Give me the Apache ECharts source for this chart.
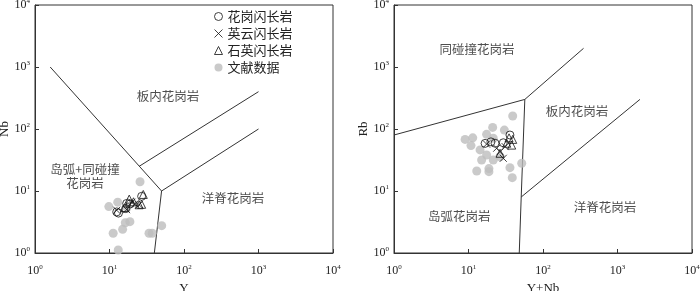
<!DOCTYPE html>
<html><head><meta charset="utf-8">
<script src="https://cdn.jsdelivr.net/npm/echarts@6/dist/echarts.min.js"></script>
<style>html,body{margin:0;padding:0;background:#fff}#c{width:700px;height:291px}</style>
</head><body><div id="c"></div>
<script>
// ---- data ----
const seriesNames = ['花岗闪长岩','英云闪长岩','石英闪长岩','文献数据'];
// Left panel: [Y, Nb]
const leftGranodiorite = [[12.5,4.6],[13.2,4.4],[16.5,5.2],[19,6.2],[27,8.2],[17,6.3]];
const leftTonalite     = [[12.5,4.9],[17,5.0],[22,6.2],[25,6.0],[20,6.6]];
const leftQtzDiorite   = [[18.4,7.4],[28.4,8.8],[25,6.0],[27,6.1],[21,6.7],[16,5.4]];
const leftLiterature   = [[9.8,5.6],[12.9,6.6],[25.7,14.1],[11.2,2.08],[15,2.41],[16.3,3.08],[18.8,3.2],[33.9,2.08],[37.5,2.08],[50.2,2.76],[13.1,1.12],[17.2,5.4]];
// Right panel: [Y+Nb, Rb]
const rightGranodiorite = [[16.7,58.6],[36,80],[22.7,59],[29.3,60],[20,62]];
const rightTonalite     = [[29.3,33.7],[26.5,43],[17.5,57],[23.9,49],[31,52]];
const rightQtzDiorite   = [[26.5,40.6],[39.2,68],[32.6,59],[38,55],[35,72]];
const rightLiterature   = [[39.2,162],[21.1,106],[30.3,96],[9,68],[11.4,72],[10.8,54],[17.5,82],[14.3,46],[17.5,38],[15,31.6],[12.9,21],[18.8,23],[18.8,20.5],[21.5,31.6],[36,23.8],[38.7,16.4],[51.8,28],[21.5,71],[26.5,35.7]];
// Discrimination boundaries
const leftBoundaries = [
  [[1.6,1000],[50,10]],
  [[50,10],[40,1]],
  [[50,10],[1000,100]],
  [[25,25],[1000,400]]
];
const rightBoundaries = [
  [[1,80],[57,300]],
  [[57,300],[350,2000]],
  [[57,300],[51,8],[48,1]],
  [[51,8],[2000,300]]
];
// Field labels [x, y, text]
const leftFields = [[61,340,'板内花岗岩'],[4.7,17.5,'岛弧+同碰撞\n花岗岩'],[455,7.7,'洋脊花岗岩']];
const rightFields = [[13,1950,'同碰撞花岗岩'],[286,195,'板内花岗岩'],[7.5,3.95,'岛弧花岗岩'],[680,5.5,'洋脊花岗岩']];
const axisNames = {leftX:'Y', leftY:'Nb', rightX:'Y+Nb', rightY:'Rb'};

// ---- chart ----
const serif = '"Liberation Serif","Noto Sans CJK SC",serif';
const cjk = '"Noto Sans CJK SC",sans-serif';
const supFmt = v => { const e = Math.round(Math.log10(v)); return '{b|10}{s|' + e + '}'; };
const rich = { b:{fontFamily:serif,fontSize:12,color:'#222'}, s:{fontFamily:serif,fontSize:7,color:'#222',padding:[0,0,7,0]} };

function mkX(gi, name){
  return {type:'log', logBase:10, gridIndex:gi, min:1, max:10000, name:name, nameLocation:'middle', nameGap:26,
    nameTextStyle:{fontFamily:serif,fontSize:13,color:'#222'},
    axisLine:{show:true,lineStyle:{color:'#333',width:1}},
    axisTick:{show:true,inside:true,length:4,lineStyle:{color:'#333'}},
    minorTick:{show:false}, splitLine:{show:false},
    axisLabel:{formatter:supFmt,rich:rich,margin:11,showMinLabel:true,showMaxLabel:true}};
}
function mkY(gi, name){
  return {type:'log', logBase:10, gridIndex:gi, min:1, max:10000, name:name, nameLocation:'middle', nameGap:22,
    nameTextStyle:{fontFamily:serif,fontSize:13,color:'#222'},
    axisLine:{show:true,lineStyle:{color:'#333',width:1}},
    axisTick:{show:true,inside:true,length:4,lineStyle:{color:'#333'}},
    minorTick:{show:false}, splitLine:{show:false},
    axisLabel:{formatter:supFmt,rich:rich,margin:5,showMinLabel:true,showMaxLabel:true}};
}
const hollow = {color:'rgba(0,0,0,0)', borderColor:'#111', borderWidth:1};
const xPath = 'path://M0,0L10,10M10,0L0,10';
function pts(gi, data, idx){
  const base = {type:'scatter', xAxisIndex:gi, yAxisIndex:gi, data:data, name:seriesNames[idx], silent:true, z:idx===3?2:3};
  if(idx===0) return Object.assign(base,{symbol:'circle',symbolSize:8,itemStyle:hollow});
  if(idx===1) return Object.assign(base,{symbol:xPath,symbolSize:7,itemStyle:{color:'rgba(0,0,0,0)',borderColor:'#111',borderWidth:1}});
  if(idx===2) return Object.assign(base,{symbol:'triangle',symbolSize:8,itemStyle:hollow});
  return Object.assign(base,{symbol:'circle',symbolSize:9,itemStyle:{color:'#bdbdbd'}});
}
function lines(gi, arr){
  return arr.map(seg => ({type:'line', xAxisIndex:gi, yAxisIndex:gi, data:seg, showSymbol:false, symbol:'none', silent:true,
    lineStyle:{color:'#333',width:1}, z:1}));
}
function fields(gi, arr){
  return {type:'scatter', xAxisIndex:gi, yAxisIndex:gi, symbolSize:0, silent:true,
    data:arr.map(d=>({value:[d[0],d[1]], name:d[2]})),
    label:{show:true, position:'inside', formatter:p=>p.name, fontFamily:cjk, fontSize:12.5, color:'#222', lineHeight:14, align:'center'}};
}
const series = [].concat(
  lines(0,leftBoundaries), lines(1,rightBoundaries),
  [pts(0,leftLiterature,3), pts(0,leftGranodiorite,0), pts(0,leftTonalite,1), pts(0,leftQtzDiorite,2)],
  [pts(1,rightLiterature,3), pts(1,rightGranodiorite,0), pts(1,rightTonalite,1), pts(1,rightQtzDiorite,2)],
  [fields(0,leftFields), fields(1,rightFields)]
);
const chart = echarts.init(document.getElementById('c'), null, {renderer:'canvas'});
chart.setOption({
  animation:false,
  backgroundColor:'#fff',
  grid:[
    {left:35, top:5, width:298, height:248, show:true, borderColor:'#333', borderWidth:1, outerBoundsMode:'none', containLabel:false},
    {left:394, top:5, width:298, height:248, show:true, borderColor:'#333', borderWidth:1, outerBoundsMode:'none', containLabel:false}
  ],
  xAxis:[mkX(0,axisNames.leftX), mkX(1,axisNames.rightX)],
  yAxis:[mkY(0,axisNames.leftY), mkY(1,axisNames.rightY)],
  legend:{data:seriesNames, orient:'vertical', left:214, top:10, itemWidth:8, itemHeight:8, itemGap:4,
    itemStyle:{borderWidth:1},
    textStyle:{fontFamily:cjk,fontSize:13,color:'#222'}, selectedMode:false, padding:0},
  series:series
});
</script></body></html>
